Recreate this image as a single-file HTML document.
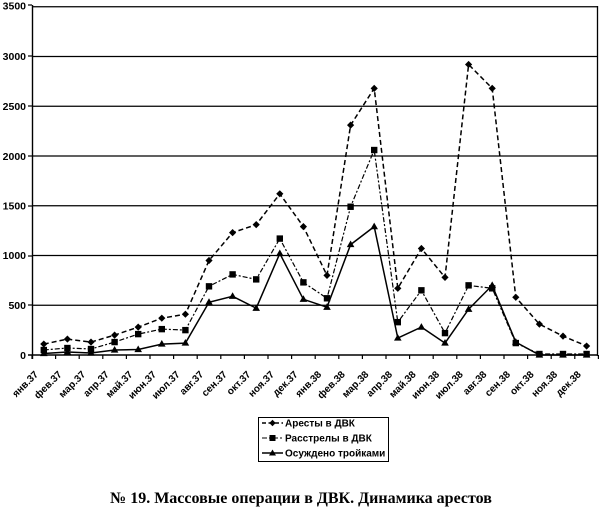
<!DOCTYPE html>
<html><head><meta charset="utf-8"><style>
html,body{margin:0;padding:0;background:#fff;}
svg{display:block;}
</style></head><body>
<svg width="600" height="521" viewBox="0 0 600 521" xmlns="http://www.w3.org/2000/svg">
<rect width="600" height="521" fill="#fff"/>
<g id="plot"></g>
<g font-family="Liberation Sans, Arial, sans-serif" font-weight="bold" font-size="10.5" fill="#000" text-anchor="end">
<text x="26" y="9.5">3500</text>
<text x="26" y="60">3000</text>
<text x="26" y="110">2500</text>
<text x="26" y="160">2000</text>
<text x="26" y="209.5">1500</text>
<text x="26" y="259">1000</text>
<text x="26" y="309">500</text>
<text x="26" y="359">0</text>
</g>
<g id="xl" font-family="Liberation Sans, Arial, sans-serif" font-weight="bold" font-size="10" fill="#000" text-anchor="end"></g>
<!-- legend -->
<rect x="258.5" y="417.5" width="130" height="44" fill="#fff" stroke="#000" stroke-width="1"/>
<g stroke="#000" stroke-width="1.4" fill="#000">
<line x1="262" y1="423" x2="283" y2="423" stroke-dasharray="4,2.5"/>
<polygon points="272.5,419.8 275.7,423 272.5,426.2 269.3,423" stroke="none"/>
<line x1="262" y1="438" x2="283" y2="438" stroke-dasharray="5,2,2,2" stroke-width="1.1"/>
<rect x="269.5" y="435" width="6" height="6" stroke="none"/>
<line x1="262" y1="453" x2="283" y2="453"/>
<polygon points="272.5,449.5 276,455.5 269,455.5" stroke="none"/>
</g>
<g font-family="Liberation Sans, Arial, sans-serif" font-weight="bold" font-size="10" fill="#000">
<text x="285" y="426.5">Аресты в ДВК</text>
<text x="285" y="441.5">Расстрелы в ДВК</text>
<text x="285" y="456.5">Осуждено тройками</text>
</g>
<text x="301" y="503" text-anchor="middle" font-family="Liberation Serif, serif" font-weight="bold" font-size="16" fill="#000">№ 19. Массовые операции в ДВК. Динамика арестов</text>
</svg>
<script>
(function(){
var NS="http://www.w3.org/2000/svg";
var plot=document.getElementById('plot');
function X(i){return 32+23.6*(i+0.5);}
function Y(v){return 355-v*0.0995;}
function el(n,a,p){var e=document.createElementNS(NS,n);for(var k in a)e.setAttribute(k,a[k]);(p||plot).appendChild(e);return e;}
[500,1000,1500,2000,2500,3000,3500].forEach(function(v){
 el('line',{x1:32,y1:Y(v),x2:598,y2:Y(v),stroke:'#000','stroke-width':1.3});
});
el('line',{x1:32.5,y1:5,x2:32.5,y2:359,stroke:'#000','stroke-width':1.4});
el('line',{x1:597.5,y1:6,x2:597.5,y2:356,stroke:'#000','stroke-width':1.3});
el('line',{x1:28,y1:355,x2:598,y2:355,stroke:'#000','stroke-width':1.5});
[5,56,106,156,206,256,305].forEach(function(y){el('line',{x1:28,y1:Y((355-y)/0.0995),x2:32,y2:Y((355-y)/0.0995),stroke:'#000','stroke-width':1.2});});
for(var k=0;k<=24;k++){var x=32+23.6*k;el('line',{x1:x,y1:355,x2:x,y2:359,stroke:'#000','stroke-width':1.2});}
var arr=[110,160,130,200,280,370,410,950,1230,1310,1620,1290,800,2310,2680,670,1070,780,2920,2680,580,310,190,90];
var exe=[50,70,60,130,210,260,250,690,810,760,1170,730,570,1490,2060,330,650,220,700,670,120,10,10,10];
var tro=[15,30,20,50,55,110,120,530,590,470,1020,560,480,1110,1290,170,280,120,460,700,130,0,0,0];
function pts(d){return d.map(function(v,i){return X(i).toFixed(1)+','+Y(v).toFixed(1);}).join(' ');}
el('polyline',{points:pts(tro),fill:'none',stroke:'#000','stroke-width':1.5});
el('polyline',{points:pts(exe),fill:'none',stroke:'#000','stroke-width':1.2,'stroke-dasharray':'5,2,2,2'});
el('polyline',{points:pts(arr),fill:'none',stroke:'#000','stroke-width':1.5,'stroke-dasharray':'5,3'});
tro.forEach(function(v,i){var x=X(i),y=Y(v);el('polygon',{points:(x)+','+(y-4)+' '+(x+3.8)+','+(y+2.6)+' '+(x-3.8)+','+(y+2.6),fill:'#000'});});
exe.forEach(function(v,i){var x=X(i),y=Y(v);el('rect',{x:x-3.2,y:y-3.2,width:6.4,height:6.4,fill:'#000'});});
arr.forEach(function(v,i){var x=X(i),y=Y(v);el('polygon',{points:x+','+(y-3.6)+' '+(x+3.6)+','+y+' '+x+','+(y+3.6)+' '+(x-3.6)+','+y,fill:'#000'});});
var m=['янв','фев','мар','апр','май','июн','июл','авг','сен','окт','ноя','дек'];
var xl=document.getElementById('xl');
for(var i=0;i<24;i++){
 var lab=m[i%12]+'.'+(i<12?'37':'38');
 var x=X(i)-5,y=375;
 var t=el('text',{x:x,y:y,transform:'rotate(-45 '+x+' '+y+')'},xl);
 t.textContent=lab;
}
})();
</script>
</body></html>
